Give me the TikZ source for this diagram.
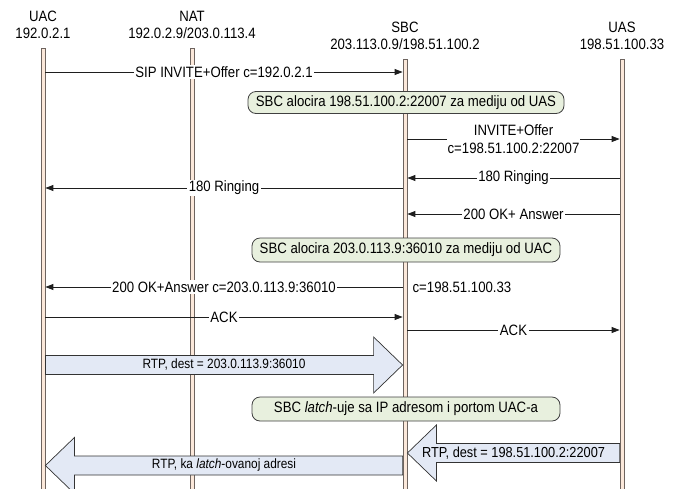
\documentclass[tikz,border=0pt]{standalone}
\usepackage{fontspec}
\setmainfont{Liberation Sans}[FakeStretch=0.88]
\usetikzlibrary{arrows.meta,calc}
\definecolor{notefill}{RGB}{232,240,222}
\definecolor{barfill}{RGB}{251,232,218}
\definecolor{bardraw}{RGB}{110,100,95}
\definecolor{blkfill}{RGB}{227,233,245}
\definecolor{linec}{RGB}{30,30,30}
\begin{document}
\begin{tikzpicture}[x=1pt,y=-1pt,
  font=\fontsize{15}{17.5}\selectfont,
  bar/.style={fill=barfill,draw=bardraw,line width=0.8pt,minimum width=4pt,inner sep=0pt,anchor=north},
  msg/.style={draw=linec,line width=0.9pt,-{Triangle[length=8pt,width=6pt]}},
  lbl/.style={fill=white,inner sep=1.5pt},
  note/.style={draw=black!75,fill=notefill,rounded corners=8pt,line width=0.8pt,inner sep=2pt,minimum height=22pt},
  blk/.style={draw=black!80,fill=blkfill,line width=0.7pt,line join=miter},
  blklbl/.style={inner sep=0pt,font=\fontsize{13.5}{15}\selectfont}]
\useasboundingbox (0,0) rectangle (677,488);
% headers
\node (uacN) at (43,16) {UAC};
\node (uacI) at (43,33.5) {192.0.2.1};
\node (natN) at (192,16) {NAT};
\node (natI) at (192,33.5) {192.0.2.9/203.0.113.4};
\node (sbcN) at (405,27) {SBC};
\node (sbcI) at (405,44.5) {203.113.0.9/198.51.100.2};
\node (uasN) at (622,27) {UAS};
\node (uasI) at (622,44.5) {198.51.100.33};
% lifelines
\node[bar,minimum height=445pt] (uac) at (43,48) {};
\node[bar,minimum height=445pt] (nat) at (192,48) {};
\node[bar,minimum height=435pt] (sbc) at (405,59) {};
\node[bar,minimum height=435pt] (uas) at (622,59) {};
% messages
\draw[msg] (uac.east |- 0,72) -- node[lbl]{SIP INVITE+Offer c=192.0.2.1} (sbc.west |- 0,72);
\node[note,minimum width=316pt] (n1) at (406,102.5) {SBC alocira 198.51.100.2:22007 za mediju od UAS};
\draw[msg] (sbc.east |- 0,139) -- node[lbl,align=center,inner sep=1pt]{INVITE+Offer\\c=198.51.100.2:22007} (uas.west |- 0,139);
\draw[msg] (uas.west |- 0,178) -- node[lbl]{180 Ringing} (sbc.east |- 0,178);
\draw[msg] (sbc.west |- 0,188) -- node[lbl]{180 Ringing} (uac.east |- 0,188);
\draw[msg] (uas.west |- 0,214) -- node[lbl]{200 OK+ Answer} (sbc.east |- 0,214);
\node[note,minimum width=308pt,minimum height=24pt] (n2) at (406,250) {SBC alocira 203.0.113.9:36010 za mediju od UAC};
\draw[msg] (sbc.west |- 0,287) -- node[lbl]{200 OK+Answer c=203.0.113.9:36010} (uac.east |- 0,287);
\node[anchor=west,inner sep=1pt] (cl) at ($(sbc.east |- 0,287)+(4,0)$) {c=198.51.100.33};
\draw[msg] (uac.east |- 0,317) -- node[lbl]{ACK} (sbc.west |- 0,317);
\draw[msg] (sbc.east |- 0,330) -- node[lbl]{ACK} (uas.west |- 0,330);
% RTP UAC -> SBC
\path (uac.east |- 0,365) coordinate (a1s) (sbc.west |- 0,365) coordinate (a1t);
\draw[blk] ($(a1s)+(0,-9.5)$) -- ($(a1t)+(-29,-9.5)$) -- ($(a1t)+(-29,-28)$) -- (a1t)
  -- ($(a1t)+(-29,28)$) -- ($(a1t)+(-29,9.5)$) -- ($(a1s)+(0,9.5)$) -- cycle;
\node[blklbl] (l1) at ($(a1s)!0.5!(a1t)+(0,-1)$) {RTP, dest = 203.0.113.9:36010};
% note 3
\node[note,minimum width=308pt,minimum height=24pt] (n3) at (406,409) {SBC \textit{latch}-uje sa IP adresom i portom UAC-a};
% RTP UAS -> SBC
\path (uas.west |- 0,453) coordinate (a2s) (sbc.east |- 0,453) coordinate (a2t);
\draw[blk] ($(a2s)+(0,-9.5)$) -- ($(a2t)+(29,-9.5)$) -- ($(a2t)+(29,-28)$) -- (a2t)
  -- ($(a2t)+(29,28)$) -- ($(a2t)+(29,9.5)$) -- ($(a2s)+(0,9.5)$) -- cycle;
\node[blklbl,font=\fontsize{14.5}{16}\selectfont] (l2) at ($(a2s)!0.5!(a2t)$) {RTP, dest = 198.51.100.2:22007};
% RTP SBC -> UAC
\path (sbc.west |- 0,465.5) coordinate (a3s) (uac.east |- 0,465.5) coordinate (a3t);
\draw[blk] ($(a3s)+(0,-9.5)$) -- ($(a3t)+(29,-9.5)$) -- ($(a3t)+(29,-28)$) -- (a3t)
  -- ($(a3t)+(29,28)$) -- ($(a3t)+(29,9.5)$) -- ($(a3s)+(0,9.5)$) -- cycle;
\node[blklbl] (l3) at ($(a3s)!0.5!(a3t)$) {RTP, ka \textit{latch}-ovanoj adresi};
\end{tikzpicture}
\end{document}
